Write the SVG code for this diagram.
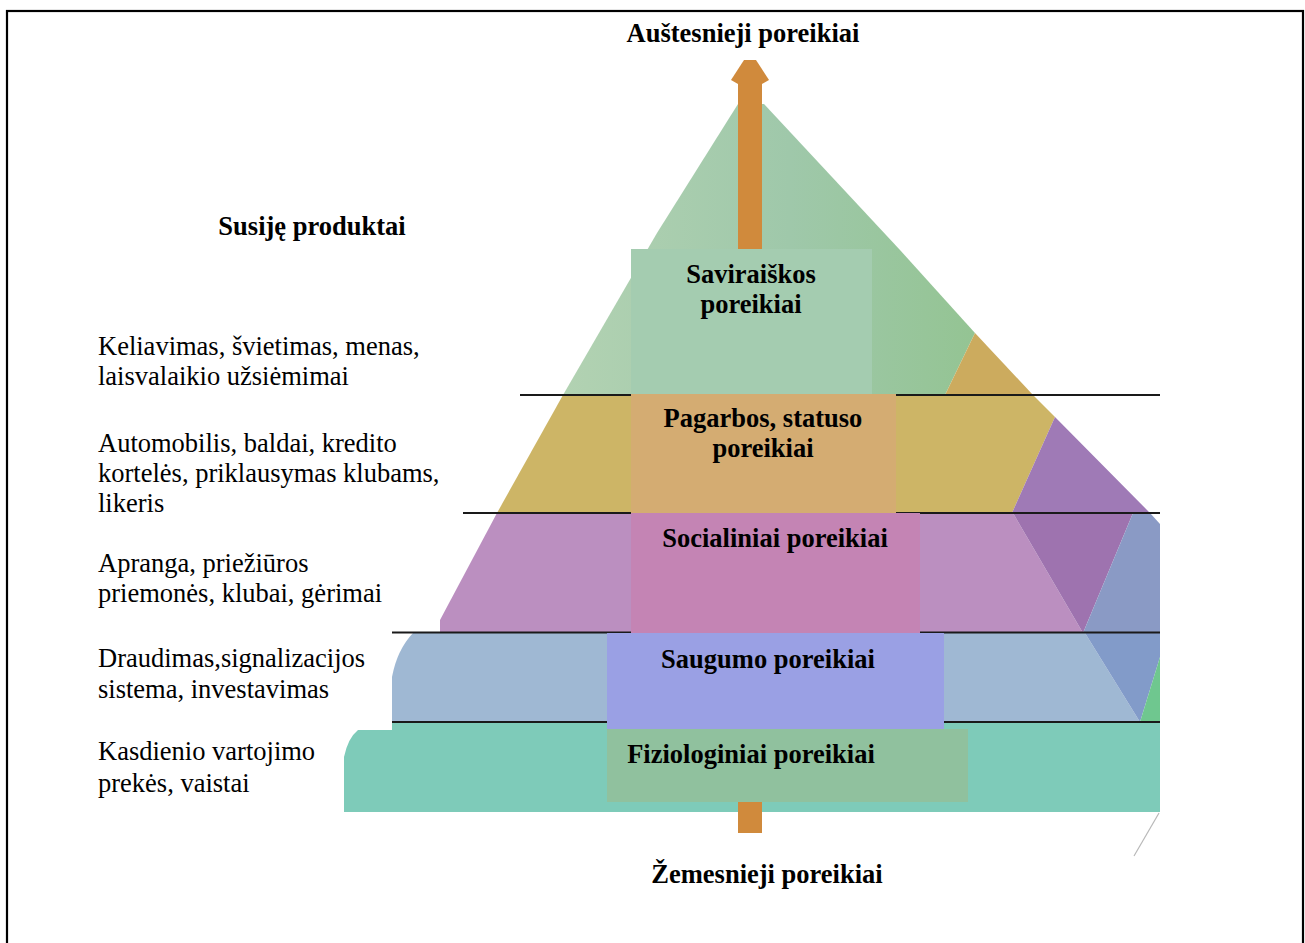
<svg xmlns="http://www.w3.org/2000/svg" width="1305" height="943" viewBox="0 0 1305 943">
  <defs>
    <style>
      .lbl { font-family: "Liberation Serif", "Times New Roman", serif; font-size: 26.5px; fill: #000; }
      .b { font-weight: bold; }
      .sep { stroke: #1a1a1a; stroke-width: 1.8; fill: none; }
      .box { stroke: none; }
    </style>
    <linearGradient id="topFace" x1="0" y1="0" x2="1" y2="0">
      <stop offset="0" stop-color="#b2d2b2"/>
      <stop offset="0.55" stop-color="#9fc8aa"/>
      <stop offset="1" stop-color="#94c493"/>
    </linearGradient>
  </defs>

  <rect x="0" y="0" width="1305" height="943" fill="#ffffff"/>
  <!-- page frame -->
  <rect x="7" y="11" width="1296" height="950" fill="none" stroke="#000" stroke-width="2.2"/>

  <!-- pyramid faces -->
  <g id="pyramid">
    <polygon points="738,104 764,104 900,250 975,333 945,395 563,395 657,233" fill="url(#topFace)"/>
    <polygon points="975,333 1033,395 945,395" fill="#ccab5e"/>
    <polygon points="563,395 1033,395 1055,417 1012,513 497,513" fill="#cdb566"/>
    <polygon points="1055,417 1147,510 1150,513 1012,513" fill="#9f7ab6"/>
    <polygon points="497,513 1013,513 1083,633 440,633 440,620" fill="#bb8fc0"/>
    <polygon points="1013,513 1133,513 1083,633" fill="#9e73af"/>
    <polygon points="1133,513 1150,513 1160,524 1160,633 1083,633" fill="#8a9ac5"/>
    <path d="M413,633 L1085,633 L1140,722 L392,722 L392,677 Q397,650 413,633 Z" fill="#9fb8d3"/>
    <polygon points="1085,633 1160,633 1160,657 1140,722" fill="#829bc9"/>
    <polygon points="1160,657 1160,722 1140,722" fill="#6fc78f"/>
    <path d="M392,722 L1160,722 L1160,812 L344,812 L344,757 Q348,738 358,730 L392,730 Z" fill="#7ecbb9"/>
  </g>
  <line x1="1159" y1="813" x2="1134" y2="856" stroke="#b8b8b8" stroke-width="1.2"/>

  <!-- level separators -->
  <g id="separators">
    <line class="sep" x1="520" y1="395" x2="1160" y2="395"/>
    <line class="sep" x1="463" y1="513" x2="1160" y2="513"/>
    <line class="sep" x1="392" y1="632.5" x2="1160" y2="632.5"/>
    <line class="sep" x1="392" y1="722" x2="1160" y2="722"/>
  </g>

  <!-- vertical arrow from lower to higher needs -->
  <g id="connectors">
    <rect x="738" y="82" width="24" height="751" fill="#d08a3c"/>
    <path d="M738,84 L731,80 L744,60 L756,60 L769,80 L762,84 Z" fill="#d08a3c"/>
  </g>

  <!-- need levels -->
  <g id="saviraiska">
    <rect class="box" x="631" y="249" width="241" height="145" fill="#a4ccb0"/>
    <text class="lbl b" x="751" y="283" text-anchor="middle">Saviraiškos</text>
    <text class="lbl b" x="751" y="313" text-anchor="middle">poreikiai</text>
  </g>
  <g id="pagarba">
    <rect class="box" x="631" y="394" width="265" height="119" fill="#d4ac72"/>
    <text class="lbl b" x="763" y="427" text-anchor="middle">Pagarbos, statuso</text>
    <text class="lbl b" x="763" y="457" text-anchor="middle">poreikiai</text>
  </g>
  <g id="socialiniai">
    <rect class="box" x="631" y="513" width="289" height="120" fill="#c484b4"/>
    <text class="lbl b" x="775" y="547" text-anchor="middle">Socialiniai poreikiai</text>
  </g>
  <g id="saugumo">
    <rect class="box" x="607" y="633" width="337" height="96" fill="#9aa0e4"/>
    <text class="lbl b" x="768" y="668" text-anchor="middle">Saugumo poreikiai</text>
  </g>
  <g id="fiziologiniai">
    <rect class="box" x="607" y="729" width="361" height="73" fill="#90c19e"/>
    <text class="lbl b" x="751" y="763" text-anchor="middle">Fiziologiniai poreikiai</text>
  </g>

  <!-- axis captions -->
  <g id="aukstesnieji">
    <text class="lbl b" x="743" y="42" text-anchor="middle">Auštesnieji poreikiai</text>
  </g>
  <g id="zemesnieji">
    <text class="lbl b" x="767" y="883" text-anchor="middle">Žemesnieji poreikiai</text>
  </g>

  <!-- related products column -->
  <g id="susije-produktai">
    <text class="lbl b" x="312" y="235" text-anchor="middle">Susiję produktai</text>
  </g>
  <g id="produktai-saviraiska">
    <text class="lbl" x="98" y="355">Keliavimas, švietimas, menas,</text>
    <text class="lbl" x="98" y="385">laisvalaikio užsiėmimai</text>
  </g>
  <g id="produktai-pagarba">
    <text class="lbl" x="98" y="452">Automobilis, baldai, kredito</text>
    <text class="lbl" x="98" y="482">kortelės, priklausymas klubams,</text>
    <text class="lbl" x="98" y="512">likeris</text>
  </g>
  <g id="produktai-socialiniai">
    <text class="lbl" x="98" y="572">Apranga, priežiūros</text>
    <text class="lbl" x="98" y="602">priemonės, klubai, gėrimai</text>
  </g>
  <g id="produktai-saugumo">
    <text class="lbl" x="98" y="667">Draudimas,signalizacijos</text>
    <text class="lbl" x="98" y="698">sistema, investavimas</text>
  </g>
  <g id="produktai-fiziologiniai">
    <text class="lbl" x="98" y="760">Kasdienio vartojimo</text>
    <text class="lbl" x="98" y="792">prekės, vaistai</text>
  </g>
</svg>
